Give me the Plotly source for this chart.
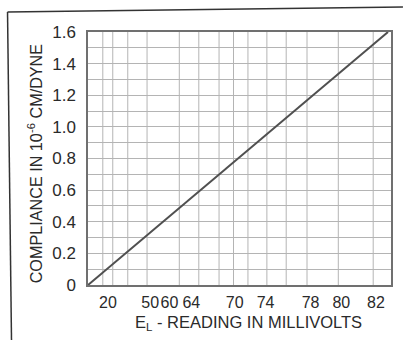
import plotly.graph_objects as go

# Calibration line: compliance (10^-6 cm/dyne) plotted on a linear position scale
line_pos = [0.0, 1.6]
line_compliance = [0.0, 1.6]

# Millivolt readings marked along the horizontal scale, and where each one sits
reading_labels = ["20", "50", "60", "64", "70", "74", "78", "80", "82"]
reading_pos = [0.106, 0.332, 0.434, 0.551, 0.782, 0.947, 1.187, 1.351, 1.536]

# Irregular vertical rulings of the chart paper
grid_pos = [0.079, 0.132, 0.212, 0.315, 0.487, 0.591, 0.699, 0.776, 0.853,
            0.954, 1.057, 1.168, 1.335, 1.521]

y_ticks = [0, 0.2, 0.4, 0.6, 0.8, 1.0, 1.2, 1.4, 1.6]
y_ticktext = ["0", "0.2", "0.4", "0.6", "0.8", "1.0", "1.2", "1.4", "1.6"]

W, H = 405, 340
L, R, T, B = 88, 12, 32, 55
X_MAX = 1.616

FONT = "Liberation Sans, Arial, sans-serif"
INK = "#2a2a2a"

fig = go.Figure()
fig.add_trace(go.Scatter(
    x=line_pos, y=line_compliance, mode="lines",
    line=dict(color="#505050", width=2), hoverinfo="skip", showlegend=False,
))

shapes = []
for gx in grid_pos:
    shapes.append(dict(type="line", xref="x", yref="paper", x0=gx, x1=gx, y0=0, y1=1,
                       line=dict(color="#b4b4b4", width=1), layer="below"))

# outer frame of the figure (top rule and left rule)
def px_to_paper(px, py):
    pw = W - L - R
    ph = H - T - B
    return (px - L) / pw, (H - B - py) / ph

x0, y0 = px_to_paper(7, 12)
x1, y1 = px_to_paper(405, 7)
x2, y2 = px_to_paper(11, 340)
shapes.append(dict(type="line", xref="paper", yref="paper", x0=x0, y0=y0, x1=x1, y1=y1,
                   line=dict(color="#333333", width=1.5)))
shapes.append(dict(type="line", xref="paper", yref="paper", x0=x0, y0=y0, x1=x2, y1=y2,
                   line=dict(color="#333333", width=1.5)))

fig.update_layout(
    width=W, height=H,
    margin=dict(l=L, r=R, t=T, b=B),
    paper_bgcolor="white", plot_bgcolor="white",
    shapes=shapes,
    font=dict(family=FONT, color=INK),
    xaxis=dict(
        range=[0, X_MAX], showgrid=False, zeroline=False,
        tickmode="array", tickvals=reading_pos, ticktext=reading_labels,
        tickangle=0,
        ticks="outside", ticklen=2, tickcolor="rgba(0,0,0,0)",
        tickfont=dict(size=16, family=FONT, color=INK),
        showline=True, linecolor="#707070", linewidth=1.5, mirror=True,
    ),
    yaxis=dict(
        range=[0, 1.6], zeroline=False,
        tickmode="array", tickvals=y_ticks, ticktext=y_ticktext,
        showgrid=True, gridcolor="#b4b4b4", gridwidth=1,
        minor=dict(dtick=0.1, tick0=0, showgrid=True, gridcolor="#b4b4b4", gridwidth=1),
        ticks="outside", ticklen=7, tickcolor="rgba(0,0,0,0)",
        tickfont=dict(size=17, family=FONT, color=INK),
        showline=True, linecolor="#707070", linewidth=1.5, mirror=True,
    ),
    annotations=[
        dict(text="E<sub>L</sub> - READING IN MILLIVOLTS", xref="paper", yref="paper",
             x=(250 - L) / (W - L - R), y=(H - B - 323) / (H - T - B),
             showarrow=False, xanchor="center", yanchor="middle",
             font=dict(size=16.5, family=FONT, color=INK)),
        dict(text="COMPLIANCE IN 10<sup>-6</sup> CM/DYNE", xref="paper", yref="paper",
             x=(35 - L) / (W - L - R), y=(H - B - 163) / (H - T - B),
             showarrow=False, textangle=-90, xanchor="center", yanchor="middle",
             font=dict(size=16.2, family=FONT, color=INK)),
    ],
)

fig.write_html("out.html")
